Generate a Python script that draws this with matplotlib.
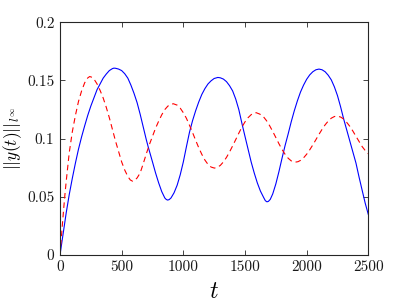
import matplotlib
matplotlib.use("Agg")
import matplotlib.pyplot as plt

# ---- data ----
t_blue = [0, 25, 50, 75, 100, 125, 150, 175, 200, 225, 250, 275, 300, 325, 350, 375,
          400, 425, 437, 450, 475, 500, 525, 550, 575, 600, 625, 650, 675, 700, 715,
          750, 775, 800, 825, 850, 862, 873, 885, 900, 925, 950, 975, 1000, 1025,
          1050, 1075, 1100, 1125, 1150, 1175, 1200, 1225, 1250, 1280, 1300, 1325,
          1350, 1375, 1400, 1425, 1450, 1475, 1500, 1525, 1550, 1575, 1600, 1625,
          1650, 1665, 1678, 1690, 1705, 1725, 1750, 1775, 1800, 1825, 1850, 1875,
          1900, 1925, 1950, 1975, 2000, 2025, 2050, 2075, 2100, 2125, 2150, 2175,
          2200, 2225, 2250, 2275, 2300, 2325, 2350, 2375, 2400, 2425, 2450, 2475, 2500]
y_blue = [0.0, 0.018, 0.036, 0.052, 0.066, 0.079, 0.091, 0.1015, 0.111, 0.120, 0.128,
          0.135, 0.142, 0.147, 0.152, 0.1555, 0.1585, 0.1602, 0.1606, 0.1605, 0.1598,
          0.1585, 0.1558, 0.152, 0.146, 0.139, 0.131, 0.121, 0.110, 0.099, 0.093,
          0.080, 0.0705, 0.062, 0.0545, 0.049, 0.0477, 0.0472, 0.0476, 0.049, 0.0535,
          0.060, 0.069, 0.080, 0.093, 0.1055, 0.1155, 0.124, 0.1315, 0.138, 0.143,
          0.147, 0.1497, 0.1517, 0.1526, 0.1523, 0.1512, 0.149, 0.1455, 0.141, 0.134,
          0.125, 0.1132, 0.102, 0.091, 0.080, 0.0705, 0.062, 0.055, 0.0497, 0.0467,
          0.0457, 0.0461, 0.0478, 0.0525, 0.061, 0.0715, 0.083, 0.094, 0.104, 0.1145,
          0.124, 0.1325, 0.140, 0.146, 0.151, 0.1548, 0.1575, 0.1592, 0.1598, 0.1592,
          0.1575, 0.1545, 0.1505, 0.1445, 0.137, 0.1275, 0.117, 0.1075, 0.098, 0.0885,
          0.079, 0.067, 0.0557, 0.0445, 0.0349]

t_red = [0, 10, 20, 30, 40, 50, 75, 100, 125, 150, 175, 200, 225, 241, 260, 275, 300,
         325, 350, 375, 400, 425, 450, 475, 500, 525, 550, 570, 589, 605, 625, 650,
         675, 700, 725, 750, 775, 800, 825, 850, 875, 900, 919, 950, 975, 1000, 1025,
         1050, 1075, 1100, 1125, 1150, 1175, 1200, 1225, 1252, 1275, 1300, 1325, 1350,
         1375, 1400, 1425, 1450, 1475, 1500, 1525, 1550, 1570, 1591, 1620, 1650, 1675,
         1700, 1725, 1750, 1775, 1800, 1825, 1850, 1875, 1908, 1930, 1950, 1975, 2000,
         2025, 2050, 2075, 2100, 2125, 2150, 2175, 2200, 2225, 2247, 2275, 2300, 2325,
         2350, 2375, 2400, 2425, 2450, 2475, 2500]
y_red = [0.0, 0.014, 0.027, 0.040, 0.052, 0.063, 0.088, 0.106, 0.120, 0.132, 0.141,
         0.148, 0.1522, 0.1534, 0.1527, 0.1513, 0.1471, 0.1415, 0.135, 0.127, 0.118,
         0.108, 0.098, 0.089, 0.080, 0.073, 0.0675, 0.0645, 0.0634, 0.0641, 0.0662,
         0.0705, 0.0785, 0.087, 0.095, 0.102, 0.109, 0.115, 0.1205, 0.125, 0.128,
         0.1295, 0.130, 0.1288, 0.1262, 0.1223, 0.1175, 0.1115, 0.1052, 0.0986, 0.0922,
         0.0865, 0.0816, 0.0779, 0.0756, 0.0747, 0.0753, 0.0770, 0.0800, 0.0839,
         0.0886, 0.0938, 0.0992, 0.1047, 0.1099, 0.1144, 0.1180, 0.1206, 0.1219,
         0.1223, 0.1211, 0.1188, 0.1154, 0.1111, 0.1062, 0.1010, 0.0957, 0.0908,
         0.0866, 0.0832, 0.0809, 0.0798, 0.0802, 0.0813, 0.0835, 0.0866, 0.0904,
         0.0946, 0.0991, 0.1037, 0.1080, 0.1119, 0.1151, 0.1176, 0.1190, 0.1194,
         0.1186, 0.1169, 0.1140, 0.1106, 0.1065, 0.1020, 0.0976, 0.0932, 0.0898, 0.0870]

x_ticks = [0, 500, 1000, 1500, 2000, 2500]
x_ticklabels = ["0", "500", "1000", "1500", "2000", "2500"]
y_ticks = [0, 0.05, 0.1, 0.15, 0.2]
y_ticklabels = ["0", "0.05", "0.1", "0.15", "0.2"]

plt.rcParams["mathtext.fontset"] = "cm"
plt.rcParams["font.family"] = ["cmr10", "DejaVu Serif"]
plt.rcParams["axes.formatter.use_mathtext"] = True

fig = plt.figure(figsize=(4.07, 3.05), dpi=100)
ax = fig.add_axes([60 / 407, 50 / 305, 308.3 / 407, 232.7 / 305])

ax.plot(t_blue, y_blue, color=(0, 0, 1), lw=0.8, solid_joinstyle="round")
ax.plot(t_red, y_red, color=(1, 0, 0), lw=0.8, linestyle=(0, (5, 3.5)))

ax.set_xlim(0, 2500)
ax.set_ylim(0, 0.2)
ax.set_xticks(x_ticks)
ax.set_xticklabels(x_ticklabels)
ax.set_yticks(y_ticks)
ax.set_yticklabels(y_ticklabels)

edge = (0.15, 0.15, 0.15)
for s in ax.spines.values():
    s.set_color(edge)
    s.set_linewidth(0.8)
ax.tick_params(direction="in", length=3.5, width=0.6, color=edge,
               labelsize=11, labelcolor=(0.1, 0.1, 0.1), top=True, right=True, pad=4)

ax.set_xlabel(r"$t$", fontsize=17, labelpad=5)
ax.set_ylabel(r"$||y(t)||_{l^\infty}$", fontsize=12.5)
ax.yaxis.set_label_coords(-0.118, 0.5)

fig.savefig("out.png", dpi=100)
